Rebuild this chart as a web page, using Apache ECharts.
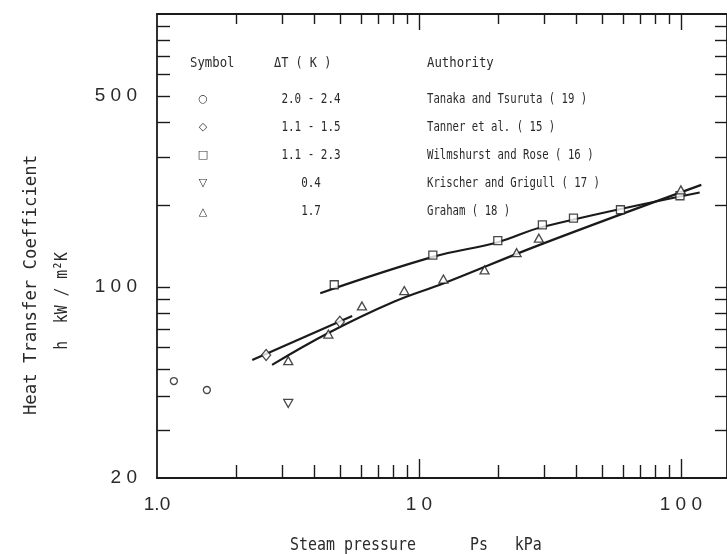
<!DOCTYPE html>
<html><head><meta charset="utf-8">
<script src="https://cdn.jsdelivr.net/npm/echarts@6.0.0/dist/echarts.min.js"></script>
<style>html,body{margin:0;padding:0;background:#fff}#c{width:727px;height:554px}</style>
</head><body><div id="c"></div>
<script>
// ---- data ----
const circleP = [1.16, 1.55];
const circleH = [45.3, 42.0];
const diamondP = [2.61, 4.99];
const diamondH = [56.4, 74.7];
const squareP = [4.75, 11.3, 20.0, 29.6, 38.9, 58.8, 99.2];
const squareH = [102, 131, 148, 169, 179, 192, 216];
const downTriP = [3.17];
const downTriH = [37.5];
const triP = [3.17, 4.51, 6.06, 8.79, 12.4, 17.8, 23.6, 28.7, 100];
const triH = [53.8, 67.3, 85.3, 97.1, 107, 115.6, 133.7, 151, 227];
// fitted lines drawn in the figure
const squareLineP = [4.20, 11.3, 20.0, 29.6, 118];
const squareLineH = [95, 129, 146, 166, 222];
const triLineP = [2.75, 4.51, 8.06, 12.45, 28.9, 119.7];
const triLineH = [51.9, 67.9, 88.5, 103.3, 142.8, 236.8];
const diamondLineP = [2.31, 5.56];
const diamondLineH = [54.1, 78.4];
// ticks and labels
const xMinorTicks = [2,3,4,5,6,7,8,9,20,30,40,50,60,70,80,90];
const xMajorTicks = [10, 100];
const xLabelValues = [1, 10, 100];
const xLabelTexts = ['1.0', '1 0', '1 0 0'];
const yTicks = [30,40,50,60,70,80,90,100,200,300,400,500,600,700,800,900];
const yLabelValues = [20, 100, 500];
const yLabelTexts = ['2 0', '1 0 0', '5 0 0'];
// legend table
const legendSymbols = ['○', '◇', '□', '▽', '△'];
const legendDT = ['2.0 - 2.4', '1.1 - 1.5', '1.1 - 2.3', '0.4', '1.7'];
const legendAuth = ['Tanaka and Tsuruta ( 19 )', 'Tanner et al. ( 15 )', 'Wilmshurst and Rose ( 16 )', 'Krischer and Grigull ( 17 )', 'Graham ( 18 )'];

const zip = (a, b) => a.map((v, i) => [v, b[i]]);
const pick = (vals, texts) => v => { for (let i = 0; i < vals.length; i++) if (Math.abs(v - vals[i]) < 1e-6 * vals[i]) return texts[i]; return ''; };

const INK = '#1a1a1a';
const TXT = '#2a2a2a';
const X_MIN = 1, X_MAX = 150, Y_MIN = 20, Y_MAX = 1000;
const baseX = (pos, ticks, len, showLine, label) => ({
  type: 'log', logBase: 10, min: X_MIN, max: X_MAX, position: pos, gridIndex: 0,
  axisLine: { show: showLine, lineStyle: { color: INK, width: 1.8 } },
  axisTick: { show: true, inside: true, length: len, customValues: ticks, lineStyle: { color: INK, width: 1.4 } },
  axisLabel: label ? label : { show: false },
  splitLine: { show: false }, minorTick: { show: false }
});
const baseY = (pos, ticks, len, showLine, label) => ({
  type: 'log', logBase: 10, min: Y_MIN, max: Y_MAX, position: pos, gridIndex: 0,
  axisLine: { show: showLine, lineStyle: { color: INK, width: 1.8 } },
  axisTick: { show: true, inside: true, length: len, customValues: ticks, lineStyle: { color: INK, width: 1.4 } },
  axisLabel: label ? label : { show: false },
  splitLine: { show: false }, minorTick: { show: false }
});

const labelFont = { fontFamily: '"Liberation Sans"', fontSize: 19, color: TXT };
const mono = '"DejaVu Sans Mono"';

const graphics = [];
// legend header
graphics.push({ type: 'text', x: 190, y: 63, scaleX: 0.88, style: { text: 'Symbol', font: '14px ' + mono, fill: TXT, align: 'left', verticalAlign: 'middle' } });
graphics.push({ type: 'text', x: 274, y: 63, scaleX: 0.85, style: { text: 'ΔT ( K )', font: '14px ' + mono, fill: TXT, align: 'left', verticalAlign: 'middle' } });
graphics.push({ type: 'text', x: 427, y: 63, scaleX: 0.88, style: { text: 'Authority', font: '14px ' + mono, fill: TXT, align: 'left', verticalAlign: 'middle' } });
const rowY0 = 99, rowDY = 28.2;
legendSymbols.forEach((s, i) => {
  const y = rowY0 + i * rowDY;
  graphics.push({ type: 'text', x: 203, y: y, style: { text: s, font: '11px "DejaVu Sans"', fill: TXT, align: 'center', verticalAlign: 'middle' } });
  graphics.push({ type: 'text', x: 311, y: y, scaleX: 0.78, style: { text: legendDT[i], font: '14px ' + mono, fill: TXT, align: 'center', verticalAlign: 'middle' } });
  graphics.push({ type: 'text', x: 427, y: y, scaleX: 0.76, style: { text: legendAuth[i], font: '14px ' + mono, fill: TXT, align: 'left', verticalAlign: 'middle' } });
});
// axis titles
graphics.push({ type: 'text', x: 290, y: 545, scaleX: 0.83, style: { text: 'Steam pressure      Ps   kPa', font: '18px ' + mono, fill: TXT, align: 'left', verticalAlign: 'middle' } });
graphics.push({ type: 'text', x: 31, y: 285, rotation: Math.PI / 2, scaleX: 0.96, style: { text: 'Heat Transfer Coefficient', font: '18px ' + mono, fill: TXT, align: 'center', verticalAlign: 'middle' } });
graphics.push({ type: 'text', x: 62, y: 301, rotation: Math.PI / 2, scaleX: 0.82, style: { text: 'h  kW / m²K', font: '18px ' + mono, fill: TXT, align: 'center', verticalAlign: 'middle' } });

const markerStyle = { color: '#fff', borderColor: INK, borderWidth: 1.3 };
const lineSeries = (p, h) => ({ type: 'line', data: zip(p, h), showSymbol: false, smooth: 0.4, silent: true, z: 2,
  lineStyle: { color: INK, width: 2.2 } });
const scatter = (p, h, symbol, size, rot) => ({ type: 'scatter', data: zip(p, h), symbol: symbol, symbolSize: size, symbolRotate: rot || 0, z: 5,
  itemStyle: markerStyle });

const option = {
  animation: false,
  backgroundColor: '#fff',
  grid: { left: 157, right: -6, top: 14, bottom: 76, containLabel: false },
  xAxis: [
    baseX('bottom', xMinorTicks, 13, true, {
      show: true, customValues: xLabelValues, margin: 17, formatter: pick(xLabelValues, xLabelTexts), ...labelFont }),
    baseX('bottom', xMajorTicks, 19, false),
    baseX('top', xMinorTicks, 10, true),
    baseX('top', xMajorTicks, 16, false)
  ],
  yAxis: [
    baseY('left', yTicks, 13, true, {
      show: true, customValues: yLabelValues, margin: 20, formatter: pick(yLabelValues, yLabelTexts), ...labelFont }),
    baseY('right', yTicks, 12, true)
  ],
  series: [
    lineSeries(squareLineP, squareLineH),
    lineSeries(triLineP, triLineH),
    lineSeries(diamondLineP, diamondLineH),
    scatter(circleP, circleH, 'circle', 7),
    scatter(diamondP, diamondH, 'diamond', [9, 11]),
    scatter(squareP, squareH, 'rect', 8),
    scatter(downTriP, downTriH, 'triangle', [9, 8], 180),
    scatter(triP, triH, 'triangle', [9, 8])
  ],
  graphic: graphics
};
const chart = echarts.init(document.getElementById('c'), null, { renderer: 'canvas' });
chart.setOption(option);
</script>
</body></html>
